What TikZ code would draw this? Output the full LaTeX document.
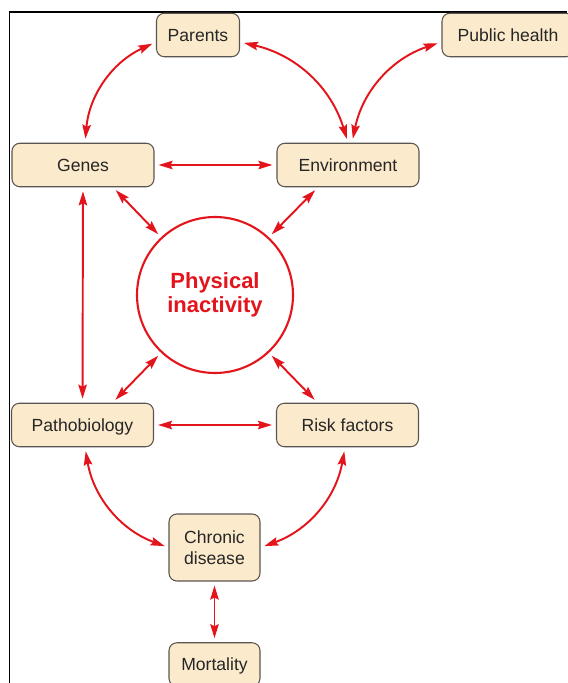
\documentclass[tikz,border=0pt]{standalone}
\usepackage{fontspec}
\setmainfont{Liberation Sans}
\usetikzlibrary{arrows.meta}
\definecolor{arrowred}{HTML}{E3141B}
\definecolor{boxfill}{HTML}{FBEACB}
\definecolor{boxline}{HTML}{5A5550}

\begin{document}
\begin{tikzpicture}[
  box/.style={
    draw=boxline,
    fill=boxfill,
    rounded corners=4.5pt,
    line width=0.6pt,
    minimum height=0.87cm,
    inner sep=0pt,
    align=center,
    text=black!85,
    font=\fontsize{10}{12}\selectfont
  },
  oneline/.style={
    text height=1.75ex,
    text depth=0.45ex
  },
  hub/.style={
    circle,
    draw=arrowred,
    line width=1.2pt,
    minimum size=3.12cm,
    inner sep=0pt,
    align=center,
    text=arrowred,
    font=\fontsize{12.5}{13.6}\selectfont\bfseries
  },
  link/.style={
    {Stealth[length=8pt,width=4.8pt,inset=1.2pt]}-{Stealth[length=8pt,width=4.8pt,inset=1.2pt]},
    draw=arrowred,
    line width=1.1pt,
    shorten <=0.08cm,
    shorten >=0.08cm
  }
]

\path[use as bounding box] (0,0) rectangle (11.34,-13.66);
\draw[line width=0.9pt] (0.19,-13.66) |- (11.34,-0.24);

\node[box, oneline, minimum width=1.66cm] (parents) at (3.96,-0.70) {Parents};
\node[box, oneline, minimum width=2.64cm] (public) at (10.16,-0.70) {Public health};
\node[box, oneline, minimum width=2.84cm] (genes) at (1.66,-3.30) {Genes};
\node[box, oneline, minimum width=2.84cm] (env) at (6.96,-3.30) {Environment};
\node[hub] (inact) at (4.30,-5.90) {Physical\\inactivity};
\node[box, oneline, minimum width=2.84cm] (patho) at (1.65,-8.50) {Pathobiology};
\node[box, oneline, minimum width=2.84cm] (risk) at (6.95,-8.50) {Risk factors};
\node[box, minimum width=1.82cm, minimum height=1.34cm] (chronic) at (4.29,-10.95) {Chronic\\disease};
\node[box, oneline, minimum width=1.82cm] (mort) at (4.29,-13.29) {Mortality};

\draw[link] ([xshift=0.04cm]genes.north) to[bend left=30] ([yshift=-0.14cm]parents.west);
\draw[link] ([yshift=-0.14cm]parents.east) to[bend left=30] (env.north);
\draw[link] ([yshift=-0.14cm]public.west) to[bend right=30] ([xshift=0.08cm]env.north);
\draw[link] (genes) -- (env);
\draw[link] (genes) -- (patho);
\draw[link] ([xshift=0.6cm]genes.south) -- (inact.133);
\draw[link] ([xshift=-0.6cm]env.south) -- (inact.47);
\draw[link] ([xshift=0.6cm]patho.north) -- (inact.227);
\draw[link] ([xshift=-0.6cm]risk.north) -- (inact.313);
\draw[link] (patho) -- (risk);
\draw[link] ([xshift=0.05cm]patho.south) to[bend right=30] (chronic.west);
\draw[link] ([xshift=-0.05cm]risk.south) to[bend left=30] (chronic.east);
\draw[link] (chronic) -- (mort);

\end{tikzpicture}
\end{document}
